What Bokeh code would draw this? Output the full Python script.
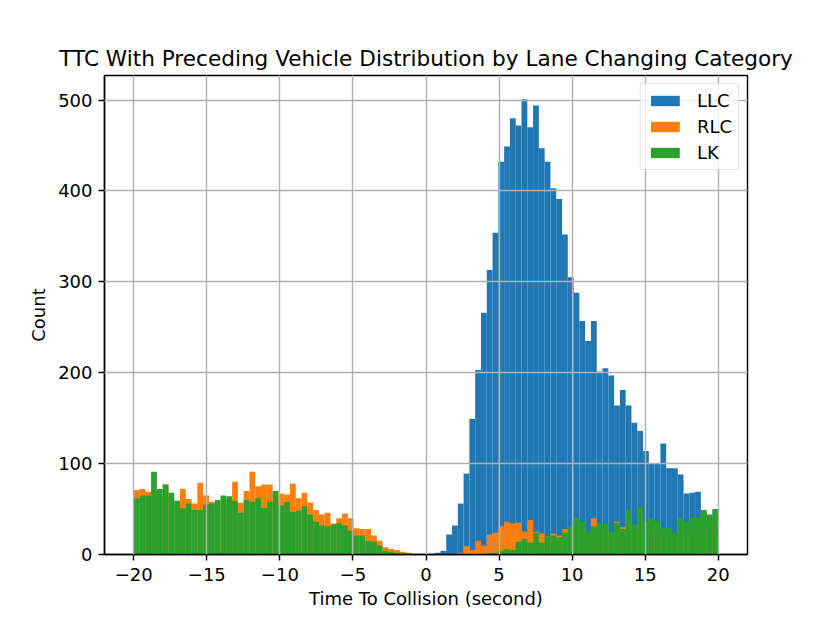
import numpy as np
from bokeh.plotting import figure
from bokeh.models import FixedTicker, Range1d
from bokeh.embed import file_html
from bokeh.resources import INLINE

# ---- data (counts per bin, 101 equal bins between -20 and 20) ----
bin_min = -20
bin_max = 20
n_bins = 101

llc = [0, 0, 0, 0, 0, 0, 0, 0, 0, 0,
       0, 0, 0, 0, 0, 0, 0, 0, 0, 0,
       0, 0, 0, 0, 0, 0, 0, 0, 0, 0,
       0, 0, 0, 0, 0, 0, 0, 0, 0, 0,
       0, 0, 0, 0, 0, 0, 0, 0, 0, 0,
       0, 0, 2, 4, 22, 32, 56, 89, 149, 203,
       266, 313, 354, 432, 449, 480, 472, 501, 470, 494,
       447, 432, 403, 391, 352, 305, 288, 257, 235, 257,
       201, 205, 197, 164, 181, 164, 145, 136, 114, 100,
       100, 122, 95, 95, 88, 67, 68, 69, 47, 42,
       50]

rlc = [71, 72, 69, 70, 65, 77, 62, 55, 72, 61,
       56, 79, 65, 58, 55, 58, 60, 80, 57, 70,
       91, 75, 77, 77, 65, 67, 66, 78, 62, 68,
       57, 49, 44, 46, 34, 40, 45, 40, 29, 28,
       28, 21, 15, 8, 6, 5, 3, 2, 0, 0,
       0, 0, 0, 0, 0, 0, 2, 9, 5, 15,
       10, 22, 24, 31, 36, 34, 35, 25, 38, 25,
       23, 20, 23, 21, 28, 26, 30, 28, 22, 40,
       28, 27, 22, 36, 30, 32, 28, 30, 26, 30,
       27, 24, 22, 20, 26, 24, 25, 27, 28, 26,
       30]

lk = [62, 65, 65, 91, 72, 77, 68, 59, 51, 56,
      49, 49, 55, 56, 60, 65, 64, 59, 46, 60,
      58, 62, 51, 58, 70, 54, 58, 47, 48, 53,
      44, 36, 32, 31, 33, 34, 32, 26, 21, 21,
      15, 14, 10, 4, 3, 2, 1, 1, 0, 0,
      0, 0, 0, 0, 0, 0, 0, 0, 0, 0,
      0, 1, 2, 4, 6, 5, 14, 17, 13, 24,
      13, 20, 21, 19, 24, 31, 40, 36, 25, 31,
      34, 34, 25, 35, 28, 49, 33, 52, 36, 40,
      37, 29, 29, 24, 40, 36, 41, 41, 49, 44,
      49]

series_names = ["LLC", "RLC", "LK"]
series_colors = ["#1f77b4", "#ff7f0e", "#2ca02c"]
x_ticks = [-20, -15, -10, -5, 0, 5, 10, 15, 20]
y_ticks = [0, 100, 200, 300, 400, 500]

edges = np.linspace(bin_min, bin_max, n_bins + 1)
left = edges[:-1]
right = edges[1:]

FONT = "DejaVu Sans"

p = figure(width=814, height=614, output_backend="svg", toolbar_location=None,
           x_range=Range1d(-22, 22), y_range=Range1d(0, 527),
           min_border_left=104, min_border_right=67,
           min_border_top=75, min_border_bottom=60)

for name, color, counts in zip(series_names, series_colors, [llc, rlc, lk]):
    p.quad(left=left, right=right, bottom=0, top=counts,
           fill_color=color, line_color=None, legend_label=name)

# title
p.title.text = "TTC With Preceding Vehicle Distribution by Lane Changing Category"
p.title.align = "center"
p.title.text_font = FONT
p.title.text_font_size = "21.6px"
p.title.text_font_style = "normal"
p.title.text_color = "black"
p.title.standoff = 10

# axes
p.xaxis.axis_label = "Time To Collision (second)"
p.yaxis.axis_label = "Count"
p.xaxis.ticker = FixedTicker(ticks=x_ticks)
p.yaxis.ticker = FixedTicker(ticks=y_ticks)
p.xaxis.major_label_overrides = {t: (str(t).replace("-", "\u2212")) for t in x_ticks}
for ax in p.axis:
    ax.axis_label_text_font = FONT
    ax.axis_label_text_font_size = "18px"
    ax.axis_label_text_font_style = "normal"
    ax.axis_label_text_color = "black"
    ax.major_label_text_font = FONT
    ax.major_label_text_font_size = "18px"
    ax.major_label_text_color = "black"
    ax.axis_line_color = "black"
    ax.axis_line_width = 1.44
    ax.major_tick_line_color = "black"
    ax.major_tick_line_width = 1.44
    ax.major_tick_out = 6
    ax.major_tick_in = 0
    ax.minor_tick_out = 0
    ax.minor_tick_in = 0
    ax.major_label_standoff = 6
p.xaxis.major_label_standoff = 7
p.xaxis.axis_label_standoff = 4
p.yaxis.axis_label_standoff = 6

p.outline_line_color = "black"
p.outline_line_width = 1.44
p.outline_line_alpha = 1.0

p.grid.grid_line_color = "#b0b0b0"
p.grid.grid_line_width = 1.44
p.grid.level = "guide"

# legend
lg = p.legend[0]
lg.location = "top_right"
lg.margin = 8
lg.padding = 6
lg.spacing = 5
lg.label_height = 21
lg.glyph_height = 13
lg.glyph_width = 36
lg.label_standoff = 14
lg.label_text_font = FONT
lg.label_text_font_size = "18px"
lg.label_text_color = "black"
lg.border_line_color = "#cccccc"
lg.border_line_width = 1.4
lg.background_fill_color = "white"
lg.background_fill_alpha = 0.8

p.background_fill_color = "white"
p.border_fill_color = "white"

open("out.html", "w").write(file_html(p, INLINE))
